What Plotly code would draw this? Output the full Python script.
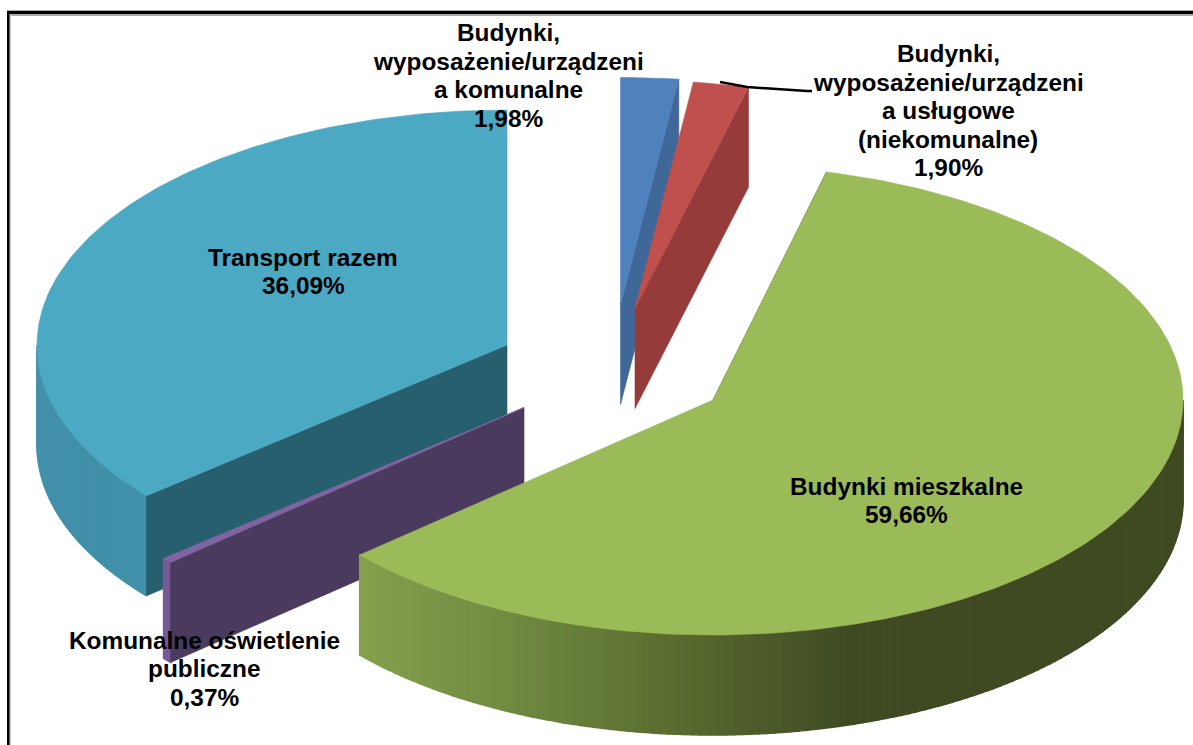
import math
import plotly.graph_objects as go

# Data, in drawing order of the original pie (clockwise from 12 o'clock)
categories = ["Budynki, wyposażenie/urządzenia komunalne",
              "Budynki, wyposażenie/urządzenia usługowe (niekomunalne)",
              "Budynki mieszkalne",
              "Komunalne oświetlenie publiczne",
              "Transport razem"]
shares = [1.98, 1.90, 59.66, 0.37, 36.09]
labels = [["Budynki,", "wyposażenie/urządzeni", "a komunalne", "1,98%"],
          ["Budynki,", "wyposażenie/urządzeni", "a usługowe", "(niekomunalne)", "1,90%"],
          ["Budynki mieszkalne", "59,66%"],
          ["Komunalne oświetlenie", "publiczne", "0,37%"],
          ["Transport razem", "36,09%"]]

# Styling / projection
top_colors = ["#4f81bd", "#c0504d", "#9bbb59", "#8064a2", "#4ba9c4"]
inner_colors = ["#3f6797", "#953c3a", "#3f4a22", "#4a3a5d", "#285f6e"]
apex = [(620.5, 304.5), (635, 308.5), (713, 400), (524, 407.5), (507, 345)]
radius_y = [227, 228, 235, 235, 235]
radius_x = 470
depth = 100
label_pos = [(508, 75.5), (948, 110.5), (906, 500.5), (204, 668.5), (303, 271.5)]
line_pitch = 28.5
leader_x = [720, 747, 807, 812]
leader_y = [82, 87, 91, 91]
side_stops = {
    2: [(360, "#84a04c"), (500, "#728c42"), (650, "#5d7032"), (850, "#3f4a22"), (1190, "#3f4a22")],
    3: [(160, "#7a5c9a"), (175, "#6f558f")],
    4: [(35, "#4391aa"), (100, "#408fa8"), (148, "#4291aa")],
}


def hex_rgb(c):
    return tuple(int(c[i:i + 2], 16) for i in (1, 3, 5))


def grad(stops, x):
    if x <= stops[0][0]:
        return stops[0][1]
    for (x0, c0), (x1, c1) in zip(stops, stops[1:]):
        if x <= x1:
            f = (x - x0) / (x1 - x0)
            a, b = hex_rgb(c0), hex_rgb(c1)
            return "#%02x%02x%02x" % tuple(round(p + (q - p) * f) for p, q in zip(a, b))
    return stops[-1][1]


def pt(i, t):
    r = math.radians(t)
    return apex[i][0] + radius_x * math.sin(r), apex[i][1] - radius_y[i] * math.cos(r)


def poly(fig, xs, ys, color, lw=0.6):
    fig.add_trace(go.Scatter(x=xs + xs[:1], y=ys + ys[:1], mode="lines", fill="toself",
                             fillcolor=color, line=dict(color=color, width=lw),
                             hoverinfo="skip", showlegend=False))


# Angular extent of each slice from the values
total = sum(shares)
spans = []
acc = 0.0
for s in shares:
    spans.append((acc, acc + s / total * 360))
    acc += s / total * 360

fig = go.Figure()


def slice_marks(i, inner_t):
    t0, t1 = spans[i]
    ax, ay = apex[i]
    # visible outer wall
    a, b = max(t0, 90), min(t1, 270)
    if i in side_stops and b > a:
        n = max(2, int((b - a) / 1.0))
        for k in range(n):
            ta, tb = a + (b - a) * k / n, a + (b - a) * (k + 1) / n
            xa, ya = pt(i, ta)
            xb, yb = pt(i, tb)
            poly(fig, [xa, xb, xb, xa], [ya, yb, yb + depth, ya + depth],
                 grad(side_stops[i], (xa + xb) / 2), lw=1.5)
    # cut face
    ex, ey = pt(i, inner_t)
    poly(fig, [ax, ex, ex, ax], [ay, ey, ey + depth, ay + depth], inner_colors[i])
    # top face
    n = max(2, int((t1 - t0) / 1.0))
    pts = [pt(i, t0 + (t1 - t0) * k / n) for k in range(n + 1)]
    poly(fig, [ax] + [p[0] for p in pts], [ay] + [p[1] for p in pts], top_colors[i])


slice_marks(4, spans[4][0])
slice_marks(3, spans[3][0])
slice_marks(0, spans[0][1])
slice_marks(1, spans[1][1])
slice_marks(2, spans[2][0])

fig.add_trace(go.Scatter(x=leader_x, y=leader_y, mode="lines", line=dict(color="black", width=2.5),
                         hoverinfo="skip", showlegend=False))

for lines, (x, y) in zip(labels, label_pos):
    for k, line in enumerate(lines):
        fig.add_annotation(x=x, y=y + (k - (len(lines) - 1) / 2) * line_pitch, text=line,
                           showarrow=False, align="center", xanchor="center", yanchor="middle",
                           font=dict(family="Liberation Sans", size=24.4, color="black", weight="bold"))

fig.update_layout(
    width=1193, height=745, margin=dict(l=0, r=0, t=0, b=0),
    paper_bgcolor="white", plot_bgcolor="white", showlegend=False,
    xaxis=dict(range=[0, 1193], visible=False, fixedrange=True),
    yaxis=dict(range=[745, 0], visible=False, fixedrange=True),
    shapes=[
        dict(type="rect", xref="x", yref="y", x0=7, x1=1193, y0=10, y1=16, line=dict(width=0), fillcolor="#a8a8a8"),
        dict(type="rect", xref="x", yref="y", x0=9, x1=11, y0=14, y1=745, line=dict(width=0), fillcolor="#c8c8c8"),
        dict(type="rect", xref="x", yref="y", x0=8, x1=1193, y0=11, y1=14, line=dict(width=0), fillcolor="black"),
        dict(type="rect", xref="x", yref="y", x0=7, x1=9.5, y0=11, y1=745, line=dict(width=0), fillcolor="black"),
    ],
)
fig.write_html("out.html", config={"displayModeBar": False},
               post_script="document.body.style.margin='0';document.body.style.overflow='hidden';")
